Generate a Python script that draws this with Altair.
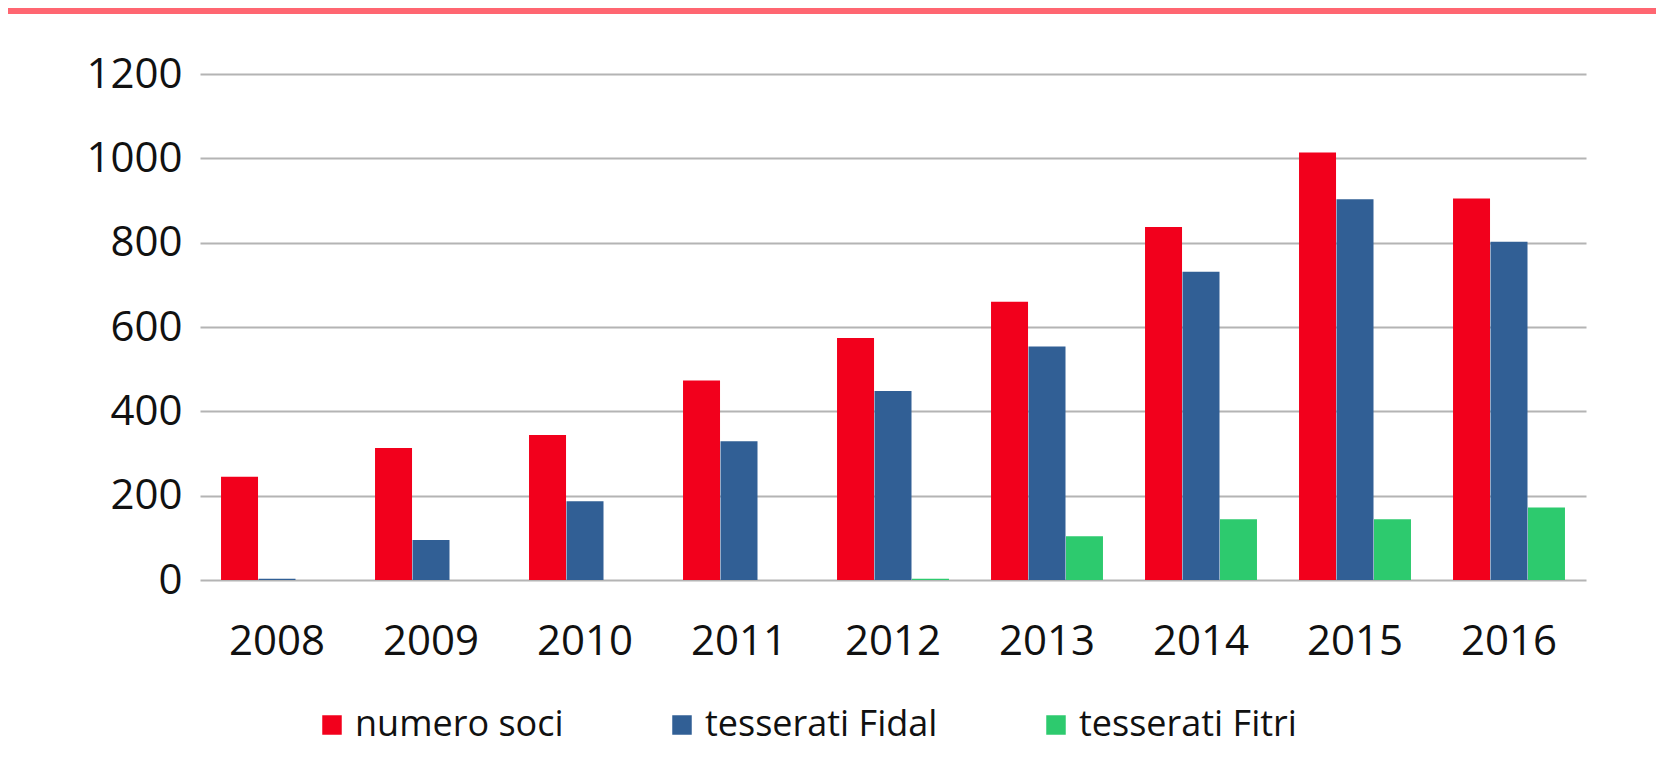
import altair as alt
import pandas as pd

years = ["2008", "2009", "2010", "2011", "2012", "2013", "2014", "2015", "2016"]
series = ["numero soci", "tesserati Fidal", "tesserati Fitri"]
numero_soci = [245, 313, 344, 473, 574, 660, 837, 1014, 905]
tesserati_fidal = [3, 95, 187, 329, 448, 554, 731, 903, 802]
tesserati_fitri = [0, 0, 0, 0, 3, 104, 144, 144, 172]
colors = ["#f2001c", "#315f95", "#2dca6e"]

rows = []
for i, y in enumerate(years):
    for s, vals in zip(series, [numero_soci, tesserati_fidal, tesserati_fitri]):
        rows.append({"anno": y, "serie": s, "valore": vals[i]})
df = pd.DataFrame(rows)

FONT = "Open Sans"

bars = alt.Chart(df).mark_bar(size=37).encode(
    x=alt.X("anno:N", sort=years, title=None,
            scale=alt.Scale(paddingInner=0.27, paddingOuter=0.135),
            axis=alt.Axis(labelAngle=0, labelFontSize=42, labelFont=FONT,
                          labelColor="#111111", labelPadding=41, ticks=False,
                          domain=False, grid=False)),
    xOffset=alt.XOffset("serie:N", sort=series, scale=alt.Scale(paddingInner=0, paddingOuter=0)),
    y=alt.Y("valore:Q", title=None,
            scale=alt.Scale(domain=[0, 1200], nice=False),
            axis=alt.Axis(values=[0, 200, 400, 600, 800, 1000, 1200], format="d",
                          labelFontSize=42, labelFont=FONT, labelColor="#111111",
                          labelPadding=18, ticks=False, domain=False,
                          gridColor="#b4b4b4", gridWidth=2)),
    color=alt.Color("serie:N", sort=series,
                    scale=alt.Scale(domain=series, range=colors),
                    legend=alt.Legend(title=None, orient="none", direction="horizontal",
                                      legendX=114, legendY=633,
                                      symbolType="square", symbolSize=380,
                                      symbolStrokeWidth=0, labelFontSize=36,
                                      labelFont=FONT, labelColor="#111111",
                                      labelOffset=5, columnPadding=100,
                                      labelLimit=400)),
)

band = alt.Chart(pd.DataFrame({"a": [0]})).mark_rule(color="#ff6671", strokeWidth=6).encode(
    x=alt.value(-200), x2=alt.value(1470), y=alt.value(-63)
)

chart = alt.layer(band, bars).properties(
    width=1386, height=506,
    autosize=alt.AutoSizeParams(type="none"),
    padding={"left": 192, "top": 66, "right": 70, "bottom": 170},
    background="white",
).configure_view(stroke=None)

chart.save("out.html", embed_options={"renderer": "svg", "actions": False})
